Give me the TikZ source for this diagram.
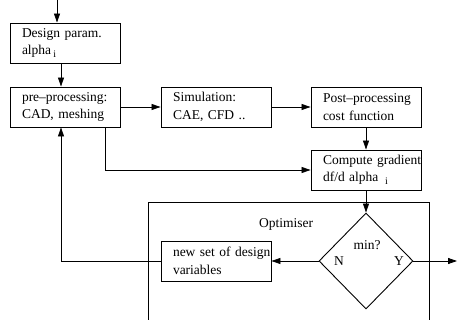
\documentclass[tikz,border=0pt]{standalone}
\usepackage{fontspec}
\setmainfont{Liberation Serif}
\usetikzlibrary{arrows.meta,shapes.geometric}
\newcommand{\lowsub}[1]{\,\raisebox{-3pt}{\fontsize{10}{10}\selectfont #1}}

\begin{document}
\begin{tikzpicture}[x=1pt, y=-1pt,
  every node/.style = {font=\fontsize{13.5}{17.5}\selectfont},
  box/.style = {shape=rectangle, draw, line width=0.9pt, align=left,
    text width=86pt, inner xsep=12pt, inner ysep=0pt, minimum height=40pt,
    execute at begin node={\hyphenpenalty=10000\exhyphenpenalty=10000}},
  test/.style = {shape=diamond, draw, line width=0.9pt,
    minimum width=94pt, minimum height=96pt, inner sep=0pt},
  flow/.style = {draw, line width=0.8pt, -{Triangle[length=9pt,width=6pt]}}]
  \useasboundingbox (0,0) rectangle (457,320);
  % process chain
  \node[box] (design) at (65,43) {Design param.\\alpha\lowsub{i}};
  \node[box] (pre) at (65,107) {pre--processing:\\CAD, meshing};
  \node[box] (sim) at (216,107) {Simulation:\\CAE, CFD ..};
  \node[box] (post) at (366,107) {Post--processing\\cost function};
  \node[box] (grad) at (366,170) {Compute~gradient\\df/d alpha \lowsub{i}};
  % optimiser
  \draw[line width=0.9pt] (148,320) -- (148,202) -- (429,202) -- (429,320);
  \node (opt) at (286,224) {Optimiser};
  \node[test] (min) at (366,261) {};
  \node (ask) at (367,245) {min?};
  \node (no) at (339,261) {N};
  \node (yes) at (399,261) {Y};
  \node[box] (newset) at (216,261) {new~set~of~design\\variables};
  \coordinate (in) at (57,0);
  \coordinate (out) at (457,261);
  % connectors
  \draw[flow] (in) -- (in |- design.north);
  \draw[flow] ([xshift=-4pt]design.south) -- ([xshift=-4pt]pre.north);
  \draw[flow] (pre.east) -- (sim.west);
  \draw[flow] (sim.east) -- (post.west);
  \draw[flow] (post.south) -- (grad.north);
  \draw[flow] ([xshift=40pt]pre.south) |- (grad.west);
  \draw[flow] (grad.south) -- (min.north);
  \draw[flow] (min.east) -- (out);
  \draw[flow] (min.west) -- (newset.east);
  \draw[flow] (newset.west) -| ([xshift=-4pt]pre.south);
\end{tikzpicture}
\end{document}
